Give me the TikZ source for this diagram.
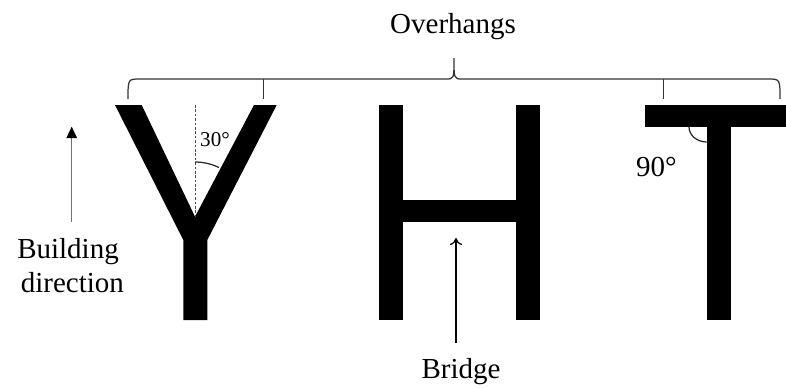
\documentclass[tikz,border=0pt]{standalone}
\usepackage{fontspec}
\setmainfont{Liberation Serif}
\usetikzlibrary{arrows.meta}

\begin{document}
\begin{tikzpicture}[x=0.02cm, y=-0.02cm,
    letter/.style={fill=black, draw=none},
    label/.style={font=\fontsize{16.5}{19}\selectfont, inner sep=0pt, anchor=base},
    small label/.style={font=\fontsize{12}{14}\selectfont, inner sep=0pt, anchor=base},
    brace line/.style={draw=black!80, line width=0.7pt},
    angle arc/.style={draw=black!85, line width=0.7pt}]
    \useasboundingbox (0,0) rectangle (786,387);

    % Title and brace over the overhangs
    \node[label] (overhangs) at (453,33) {Overhangs};
    \draw[brace line] (128,99) .. controls (128,79) .. (140,79) -- (446,79)
        .. controls (454,79) .. (454,58) .. controls (454,79) .. (462,79)
        -- (768,79) .. controls (780,79) .. (780,99);
    \draw[brace line] (263.3,79) -- (263.3,99);
    \draw[brace line] (663.3,79) -- (663.3,99);

    % Letter Y
    \fill[letter] (115,105) -- (141.7,105) -- (195,216.7) -- (254,105) -- (276.7,105)
        -- (207.3,240) -- (207.3,320) -- (183.3,320) -- (183.3,240) -- cycle;
    \draw[densely dashed, dash pattern=on 1.5pt off 1pt, line width=0.4pt, black!70] (195,105) -- (195,216.7);
    \draw[angle arc] (195,162) arc[start angle=-90, end angle=-64, radius=54.7];
    \node[small label] (ang30) at (215,146.5) {30°};

    % Letter H
    \fill[letter] (379.3,105) rectangle (403.3,320);
    \fill[letter] (516,105) rectangle (540,320);
    \fill[letter] (403.3,200) rectangle (516,221.7);

    % Letter T
    \fill[letter] (645,105) rectangle (786,127);
    \fill[letter] (706.7,127) rectangle (730.7,320);
    \draw[angle arc] (689,127) arc[start angle=180, end angle=90, x radius=17.7, y radius=15];
    \node[label] (ang90) at (656.5,176.5) {90°};

    % Building direction
    \coordinate (buildfoot) at (71.7,221.7);
    \coordinate (buildtip) at (71.7,126.7);
    \draw[black!55, line width=0.8pt, -{Triangle[length=6.5pt, width=6pt, black]}] (buildfoot) -- (buildtip);
    \node[label] (building) at (68,258) {Building};
    \node[label] (direction) at (72.4,292) {direction};

    % Bridge
    \coordinate (bridgefoot) at (456,343);
    \coordinate (bridgetip) at (456,238);
    \draw[-{To[length=4pt, width=7pt]}, line width=0.7pt] (bridgefoot) -- (bridgetip);
    \node[label] (bridge) at (461,378) {Bridge};
\end{tikzpicture}
\end{document}
